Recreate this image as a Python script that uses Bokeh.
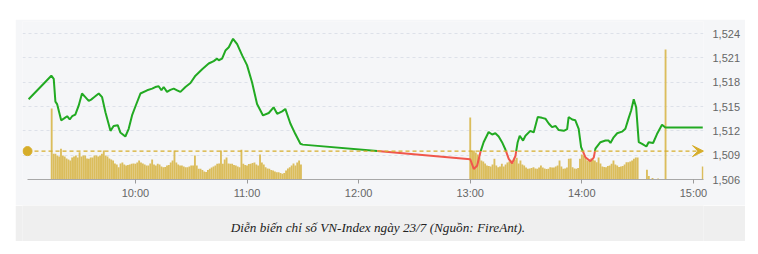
from bokeh.plotting import figure
from bokeh.layouts import column
from bokeh.models import Range1d, FixedTicker, NumeralTickFormatter, Arrow, VeeHead
from bokeh.core.properties import value
from bokeh.embed import file_html
from bokeh.resources import INLINE

# ---- data (time = minutes after 09:00) ----
price_t = [2.6, 14.8, 16.1, 17.0, 17.9, 20.1, 21.5, 23.3, 24.7, 26.0, 27.7, 29.5, 31.3, 33.1,
           34.9, 36.2, 37.6, 40.3, 42.1, 43.9, 46.6, 48.3, 50.5, 51.9, 54.6, 56.4, 58.2, 60.0,
           62.7, 66.3, 69.0, 70.7, 72.5, 74.0, 75.2, 77.0, 78.8, 80.6, 82.4, 84.2, 86.9, 89.6,
           92.3, 95.9, 99.4, 102.1, 103.9, 104.8, 106.6, 108.4, 110.2, 112.5, 114.7, 117.4,
           120.0, 122.7, 125.4, 128.6, 131.7, 134.3, 136.2, 138.9, 140.6, 143.3, 146.0, 148.7,
           150.0,
           240.0, 241.9, 243.7, 245.5, 247.2, 249.9, 251.8, 253.5, 255.3, 257.1, 258.9, 260.7,
           262.5, 264.3, 265.5, 266.6, 268.4, 269.7, 272.3, 274.1, 276.3, 278.6, 280.4, 282.2,
           284.0, 285.8, 287.6, 290.3, 292.1, 292.9, 294.8, 296.5, 298.3, 299.6, 301.9, 304.6,
           306.4, 307.3, 310.0, 312.7, 314.4, 315.4, 317.1, 319.0, 321.6, 323.4, 325.2, 326.5,
           327.9, 329.2, 330.6, 332.4, 334.7, 335.9, 338.3, 340.4, 343.1, 344.9, 365.0]
price_v = [1515.9, 1518.8, 1518.4, 1515.6, 1515.3, 1513.3, 1513.5, 1513.8, 1513.4, 1513.8, 1514.0,
           1515.1, 1516.6, 1516.15, 1515.7, 1515.85, 1516.1, 1516.6, 1516.15, 1514.3, 1512.0,
           1512.6, 1512.7, 1511.8, 1511.3, 1512.25, 1513.9, 1515.0, 1516.6, 1517.0, 1517.2,
           1517.4, 1517.5, 1517.0, 1517.4, 1516.8, 1517.05, 1517.2, 1517.0, 1516.8, 1517.4,
           1517.9, 1518.8, 1519.6, 1520.3, 1520.6, 1520.9, 1520.7, 1520.9, 1521.9, 1522.3,
           1523.35, 1522.7, 1521.3, 1520.1, 1518.0, 1515.3, 1513.9, 1514.2, 1514.9, 1514.1,
           1514.4, 1514.7, 1512.9, 1511.6, 1510.4, 1510.3,
           1508.5, 1507.3, 1507.7, 1509.4, 1510.6, 1511.85, 1511.55, 1511.7, 1511.3, 1510.6,
           1509.7, 1508.55, 1508.0, 1508.9, 1510.6, 1511.4, 1510.8, 1511.4, 1512.0, 1511.8,
           1513.7, 1513.6, 1513.5, 1512.9, 1512.45, 1512.6, 1512.1, 1512.0, 1512.2, 1513.7,
           1513.4, 1513.3, 1512.25, 1510.0, 1508.75, 1508.26, 1508.7, 1509.8, 1510.6, 1510.8,
           1510.8, 1510.5, 1511.2, 1511.7, 1511.9, 1512.25, 1513.6, 1514.5, 1515.9, 1514.9,
           1510.6, 1510.4, 1510.07, 1510.6, 1510.5, 1511.6, 1512.75, 1512.4, 1512.4]
reference = 1509.5

vol_am_start = 15   # 09:15, one bar per minute
vol_am = [71, 25.7, 25.7, 24, 23, 30.7, 24, 23, 21, 20, 19, 22, 23, 24, 22, 27.3, 23, 24, 24, 21,
          20.7, 22, 22, 24, 24, 23, 24, 25.7, 29, 24, 23, 21, 20, 19, 16, 15, 12.3, 16, 17, 15,
          14, 14.5, 15, 15.7, 16, 15.7, 17, 19, 17, 16, 15, 14, 14, 16, 20, 15, 14, 15.7, 15, 13,
          12.3, 12.5, 14, 14.5, 17, 19, 29, 17, 15, 14, 14, 13, 12.3, 12.3, 13, 14, 14, 24, 14,
          10.7, 10.7, 9.5, 8, 7.5, 9.5, 10.7, 12, 13, 14, 15.7, 16, 29, 15.7, 20, 22, 16, 15.7,
          15.7, 14.5, 14, 13, 12.3, 29.7, 15.7, 14.5, 14, 15.5, 15.7, 16.5, 17, 15, 14, 25, 17,
          15, 12.3, 11, 10.7, 9.5, 9, 8, 7.3, 7.3, 6.5, 5.7, 6.5, 9, 11, 12.3, 14, 16, 14, 17,
          19, 15]
vol_pm_start = 240  # 13:00
vol_pm = [62, 29, 29, 27, 25, 22, 19, 18, 16, 14, 13.5, 13, 15, 20.7, 14, 12.3, 13, 15.7, 13, 15,
          17, 18, 19, 17, 20, 21.7, 16, 19, 15, 14, 12, 10.7, 11, 11.5, 12.3, 11, 10.7, 12, 14,
          12, 11, 10.5, 10.7, 12.3, 12, 12, 13, 14, 19, 13, 10.7, 11, 12, 20.7, 21, 12.3, 11,
          10.7, 11.5, 20.7, 25, 24, 22, 19, 20, 21, 20, 19, 17.3, 22, 16, 13, 12.5, 12.3, 13.5,
          14, 15.7, 19, 15, 14, 12.5, 13, 13.5, 15, 17.3, 17.3, 18, 19, 20.7, 22, 22]
vol_late_t = [335, 336, 338, 341, 345, 365]
vol_late = [9.7, 3.5, 1.5, 1, 130, 13]

tick_minutes = [60, 120, 180, 240, 300, 360]
tick_labels = ["10:00", "11:00", "12:00", "13:00", "14:00", "15:00"]
price_ticks = [1506, 1509, 1512, 1515, 1518, 1521, 1524]
caption = "Diễn biến chỉ số VN-Index ngày 23/7 (Nguồn: FireAnt)."

PANEL = "#f5f6f8"
GOLD = "#d6ad2a"
BAR = "#dbbd5c"
GREEN = "#22aa22"
RED = "#f0574c"

# ---- split the price line into above / below reference segments ----
green_xs, green_ys, red_xs, red_ys = [], [], [], []
cur_x, cur_y = [price_t[0]], [price_v[0]]
cur_up = price_v[0] >= reference
for i in range(1, len(price_t)):
    x0, y0, x1, y1 = price_t[i - 1], price_v[i - 1], price_t[i], price_v[i]
    up = y1 >= reference
    if up != cur_up:
        xc = x0 + (reference - y0) * (x1 - x0) / (y1 - y0)
        cur_x.append(xc); cur_y.append(reference)
        (green_xs if cur_up else red_xs).append(cur_x)
        (green_ys if cur_up else red_ys).append(cur_y)
        cur_x, cur_y = [xc], [reference]
        cur_up = up
    cur_x.append(x1); cur_y.append(y1)
(green_xs if cur_up else red_xs).append(cur_x)
(green_ys if cur_up else red_ys).append(cur_y)

axis_start, view_start, view_end = 2.0, -0.69, 365.4

p = figure(width=730, height=186, output_backend="svg", toolbar_location=None,
           x_range=Range1d(view_start, view_end), y_range=Range1d(1506, 1525.48),
           y_axis_location="right", min_border_left=7, min_border_right=42,
           min_border_top=2, min_border_bottom=26)
p.background_fill_color = PANEL
p.border_fill_color = PANEL
p.outline_line_color = None
p.extra_y_ranges = {"vol": Range1d(0, 158)}

# axes
p.xaxis.bounds = (axis_start, view_end)
p.xaxis.ticker = FixedTicker(ticks=tick_minutes)
p.xaxis.major_label_overrides = {t: l for t, l in zip(tick_minutes, tick_labels)}
p.xaxis.minor_tick_line_color = None
p.xaxis.minor_tick_out = 0
p.xaxis.major_tick_in = 0
p.xaxis.major_tick_out = 4
p.xaxis.major_tick_line_color = "#9a9a9a"
p.xaxis.axis_line_color = "#a8a8a8"
p.xaxis.major_label_standoff = 3
p.xaxis.major_label_text_color = "#666666"
p.xaxis.major_label_text_font = "Liberation Sans"
p.xaxis.major_label_text_font_size = "11px"

p.yaxis.ticker = FixedTicker(ticks=price_ticks)
p.yaxis.formatter = NumeralTickFormatter(format="0,0")
p.yaxis.axis_line_color = None
p.yaxis.major_tick_line_color = None
p.yaxis.minor_tick_line_color = None
p.yaxis.major_tick_out = 0
p.yaxis.major_tick_in = 0
p.yaxis.minor_tick_out = 0
p.yaxis.major_label_standoff = 9
p.yaxis.major_label_text_color = "#666666"
p.yaxis.major_label_text_font = "Liberation Sans"
p.yaxis.major_label_text_font_size = "11px"

p.xgrid.grid_line_color = None
p.ygrid.ticker = FixedTicker(ticks=price_ticks)
p.ygrid.grid_line_color = "#dde1e9"
p.ygrid.grid_line_dash = "3 3"
p.ygrid.grid_line_width = 1

# volume bars
am_t = [vol_am_start + i for i in range(len(vol_am))]
pm_t = [vol_pm_start + i for i in range(len(vol_pm))]
all_t = am_t + pm_t + vol_late_t
all_v = vol_am + vol_pm + vol_late
p.vbar(x=all_t, top=all_v, width=1.0, bottom=0, color=BAR, line_color=None,
       y_range_name="vol")

# reference line with arrow and start dot
p.add_layout(Arrow(end=VeeHead(size=11, fill_color=GOLD, line_color=GOLD),
                   x_start=axis_start, y_start=reference, x_end=view_end, y_end=reference,
                   line_color=GOLD, line_dash="4 3", line_width=1.2))
p.scatter(x=[axis_start], y=[reference], size=9, color=GOLD)

# price line
p.multi_line(xs=green_xs, ys=green_ys, line_color=GREEN, line_width=2)
p.multi_line(xs=red_xs, ys=red_ys, line_color=RED, line_width=2)

# caption band
c = figure(width=730, height=36, output_backend="svg", toolbar_location=None,
           x_range=Range1d(0, 1), y_range=Range1d(0, 1), x_axis_type=None, y_axis_type=None,
           min_border=0)
c.background_fill_color = "#efefef"
c.border_fill_color = "#efefef"
c.outline_line_color = None
c.grid.grid_line_color = None
c.text(x=[0.522], y=[0.39], text=[caption], text_font=value("Liberation Serif"),
       text_font_style="italic", text_font_size="13.2px", text_color="#222222",
       text_align="center", text_baseline="middle")

layout = column(p, c, spacing=0, margin=(19, 0, 0, 15))
open("out.html", "w").write(file_html(layout, INLINE))
